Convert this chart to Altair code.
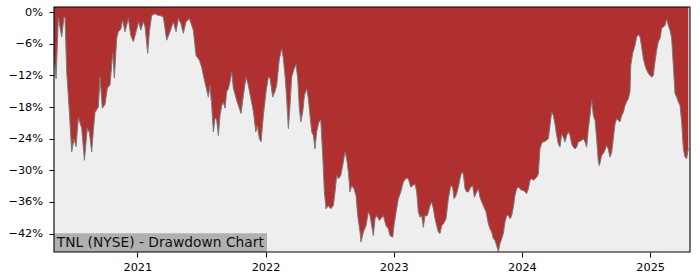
import altair as alt
import pandas as pd

# Time as decimal years, drawdown in percent
years = [
    2020.350, 2020.366, 2020.384, 2020.410, 2020.428, 2020.436, 2020.449, 2020.470, 2020.488, 2020.506,
    2020.522, 2020.540, 2020.566, 2020.587, 2020.610, 2020.626, 2020.644, 2020.657, 2020.670, 2020.696,
    2020.709, 2020.727, 2020.748, 2020.766, 2020.787, 2020.808, 2020.821, 2020.839, 2020.852, 2020.871,
    2020.886, 2020.904, 2020.930, 2020.949, 2020.969, 2020.990, 2021.011, 2021.027, 2021.047, 2021.060,
    2021.081, 2021.094, 2021.112, 2021.138, 2021.164,
    2021.177, 2021.203, 2021.229, 2021.255, 2021.281, 2021.302, 2021.320, 2021.339, 2021.359, 2021.380,
    2021.406, 2021.424, 2021.437, 2021.458, 2021.484, 2021.502, 2021.515, 2021.536, 2021.554, 2021.567,
    2021.580, 2021.593, 2021.606, 2021.619, 2021.632, 2021.645, 2021.658, 2021.671, 2021.684, 2021.697,
    2021.710, 2021.723, 2021.736, 2021.749, 2021.770, 2021.788, 2021.809, 2021.827, 2021.848, 2021.866,
    2021.885, 2021.905, 2021.924, 2021.936, 2021.952, 2021.965, 2021.983, 2022.004, 2022.022,
    2022.035, 2022.056, 2022.074, 2022.087, 2022.108, 2022.126, 2022.139, 2022.152, 2022.165, 2022.178,
    2022.191, 2022.204, 2022.222, 2022.238, 2022.251, 2022.264, 2022.275, 2022.290, 2022.303, 2022.321,
    2022.334, 2022.347, 2022.360, 2022.373, 2022.386, 2022.399, 2022.417, 2022.431, 2022.446, 2022.459,
    2022.472, 2022.490, 2022.509, 2022.529, 2022.542, 2022.555, 2022.568, 2022.587, 2022.602, 2022.620,
    2022.633, 2022.646, 2022.659, 2022.672, 2022.690, 2022.706, 2022.719, 2022.737, 2022.745, 2022.763,
    2022.784, 2022.802, 2022.815, 2022.828, 2022.841, 2022.854, 2022.867, 2022.888,
    2022.919, 2022.940, 2022.958, 2022.971, 2022.992, 2023.002, 2023.018, 2023.036, 2023.055, 2023.075,
    2023.096, 2023.114, 2023.133, 2023.148, 2023.166, 2023.179, 2023.192, 2023.205, 2023.218, 2023.231,
    2023.244, 2023.262, 2023.283, 2023.296, 2023.309, 2023.322, 2023.335, 2023.348, 2023.361, 2023.374,
    2023.387, 2023.408, 2023.426, 2023.445, 2023.460, 2023.470, 2023.486, 2023.504, 2023.517, 2023.530,
    2023.543, 2023.556, 2023.569, 2023.582, 2023.601, 2023.616, 2023.629, 2023.647, 2023.660, 2023.673,
    2023.686, 2023.699, 2023.720, 2023.738,
    2023.751, 2023.764, 2023.777, 2023.790, 2023.803, 2023.816, 2023.829, 2023.842, 2023.855, 2023.868,
    2023.881, 2023.894, 2023.907, 2023.920, 2023.933, 2023.946, 2023.959, 2023.972, 2023.985, 2023.998,
    2024.011, 2024.024, 2024.037, 2024.050, 2024.063, 2024.076, 2024.089, 2024.102, 2024.115, 2024.128,
    2024.141, 2024.154, 2024.167, 2024.180, 2024.193, 2024.206, 2024.219, 2024.232, 2024.245, 2024.258,
    2024.271, 2024.284, 2024.297, 2024.310, 2024.323, 2024.336, 2024.349, 2024.362, 2024.375, 2024.388,
    2024.401, 2024.414, 2024.427, 2024.440, 2024.453, 2024.466, 2024.479, 2024.492, 2024.505, 2024.518,
    2024.531, 2024.544, 2024.557, 2024.570, 2024.583, 2024.596,
    2024.604, 2024.622, 2024.640, 2024.661, 2024.674, 2024.687, 2024.700, 2024.713, 2024.726, 2024.739,
    2024.752, 2024.765, 2024.778, 2024.791, 2024.804, 2024.817, 2024.830, 2024.843, 2024.849, 2024.864,
    2024.882, 2024.895, 2024.908, 2024.921, 2024.934, 2024.947, 2024.960, 2024.973, 2024.986, 2024.999,
    2025.012, 2025.025, 2025.038, 2025.051, 2025.064, 2025.077, 2025.090, 2025.103, 2025.116, 2025.129,
    2025.142, 2025.155, 2025.168, 2025.181, 2025.194, 2025.207, 2025.220, 2025.233, 2025.246, 2025.259,
    2025.272, 2025.285, 2025.298,
]

drawdown = [
    -8.2, -12.6, -1.0, -4.7, -0.9, -1.0, -11.3, -19.0, -26.5, -24.0,
    -25.5, -20.0, -22.0, -28.1, -22.0, -22.8, -26.5, -22.4, -19.0, -18.0,
    -12.3, -18.2, -17.5, -14.4, -13.8, -7.8, -12.5, -4.9, -3.7, -3.2,
    -1.5, -3.7, -1.2, -4.4, -5.6, -3.7, -1.8, -3.4, -1.8, -2.7,
    -7.8, -3.7, -0.6, -0.3, -0.6,
    -0.6, -0.9, -5.3, -3.7, -1.8, -3.7, -1.2, -2.1, -4.0, -1.8,
    -1.2, -2.5, -3.4, -8.2, -9.1, -10.4, -12.0, -14.2, -16.1, -13.9,
    -17.7, -22.7, -20.1, -20.4, -23.4, -19.6, -17.7, -17.1, -18.2, -15.1,
    -14.5, -13.2, -11.3, -14.4, -16.3, -17.7, -19.2, -15.8, -12.3, -13.9,
    -16.3, -18.8, -22.7, -21.5, -24.0, -24.6, -19.6, -15.1, -12.3,
    -12.5, -16.1, -15.0, -13.9, -8.8, -6.9, -8.8, -12.0, -16.4, -22.1,
    -17.7, -12.3, -10.8, -9.9, -12.5, -18.3, -20.8, -19.0, -15.8, -14.5,
    -16.4, -19.6, -22.7, -23.4, -25.9, -22.7, -20.8, -20.5, -27.2, -34.1,
    -37.3, -36.7, -37.3, -36.7, -34.1, -31.0, -31.6, -31.0, -29.1, -26.5,
    -27.8, -30.3, -34.1, -32.9, -33.5, -34.8, -38.6, -41.7, -43.6, -41.7,
    -40.5, -37.9, -38.6, -40.5, -42.4, -39.2, -38.6, -39.5,
    -38.6, -40.5, -41.1, -42.4, -42.7, -40.5, -38.0, -35.4, -34.1, -32.2,
    -31.5, -31.6, -33.2, -32.9, -32.6, -34.1, -37.9, -38.9, -38.6, -40.8,
    -38.6, -38.6, -36.7, -36.0, -37.3, -39.2, -40.5, -41.7, -42.0, -40.5,
    -40.2, -39.2, -35.4, -32.9, -33.2, -35.4, -34.8, -33.2, -31.6, -30.3,
    -30.7, -33.5, -34.1, -34.1, -33.2, -32.9, -35.1, -34.1, -33.5, -35.1,
    -36.0, -36.7, -37.9, -40.1,
    -41.1, -41.7, -43.0, -43.3, -44.3, -45.4, -43.9, -43.0, -42.0, -39.8,
    -38.6, -38.5, -39.2, -38.6, -37.0, -34.8, -33.5, -33.2, -33.5, -33.8,
    -33.8, -34.1, -34.4, -33.5, -31.9, -31.6, -31.9, -31.6, -31.3, -30.7,
    -25.9, -24.9, -24.6, -24.5, -24.3, -24.0, -21.5, -18.9, -19.6, -21.2,
    -23.4, -25.0, -25.6, -23.1, -23.7, -24.6, -23.4, -22.7, -23.4, -25.0,
    -25.6, -25.9, -25.6, -24.6, -24.5, -24.3, -24.0, -24.6, -25.6, -22.1,
    -19.6, -16.7, -19.6, -20.5, -24.0, -28.4,
    -29.1, -27.2, -26.6, -25.3, -26.0, -27.5, -26.6, -24.0, -21.2, -20.2,
    -20.5, -20.8, -19.6, -19.0, -17.7, -17.0, -16.4, -15.1, -10.1, -7.8,
    -6.3, -4.7, -4.2, -4.7, -6.6, -8.8, -10.1, -11.0, -11.6, -12.0,
    -12.3, -12.0, -9.4, -7.2, -5.6, -5.0, -3.1, -2.8, -2.5, -1.3,
    -2.5, -3.4, -5.0, -10.1, -15.4, -16.1, -17.0, -17.7, -20.8, -25.9,
    -27.5, -27.8, -25.9,
]

x_ticks = [2021, 2022, 2023, 2024, 2025]
y_ticks = [-42, -36, -30, -24, -18, -12, -6, 0]
label_text = ["TNL (NYSE) - Drawdown Chart"]

df = pd.DataFrame({"year": years, "dd": drawdown})
lab = pd.DataFrame({"label": label_text})

FONT = "DejaVu Sans"
x_dom = [2020.350, 2025.311]
y_dom = [-45.5, 1.0]

x_enc = alt.X(
    "year:Q",
    scale=alt.Scale(domain=x_dom, nice=False, zero=False),
    axis=alt.Axis(values=x_ticks, format="d", title=None, grid=False, domain=False,
                  tickSize=5, tickColor="black", tickWidth=1, labelPadding=4,
                  labelOverlap=False, labelFontSize=11.3, labelColor="black", labelFont=FONT),
)
y_enc = alt.Y(
    "dd:Q",
    scale=alt.Scale(domain=y_dom, nice=False, zero=False),
    axis=alt.Axis(values=y_ticks, format="d", title=None, grid=False, domain=False,
                  tickSize=5, tickColor="black", tickWidth=1, labelPadding=6.5,
                  labelOverlap=False, tickCount=8,
                  labelExpr="replace(datum.label, '-', '\u2212') + '%'",
                  labelFontSize=11.3, labelColor="black", labelFont=FONT),
)

base = alt.Chart(df).encode(x=x_enc, y=y_enc)

area = base.mark_area(color="#b03030", opacity=1, clip=True).encode(y2=alt.datum(1.0))
line = base.mark_line(color="#7a7a7a", strokeWidth=1, clip=True)

box = alt.Chart(lab).mark_rect(color="#b0b0b0").encode(
    x=alt.value(0), x2=alt.value(213), y=alt.value(226.3), y2=alt.value(245)
)
txt = alt.Chart(lab).mark_text(
    align="left", baseline="alphabetic", font=FONT, fontSize=13.8, color="#111111"
).encode(x=alt.value(2.7), y=alt.value(239.7), text="label:N")

frame = alt.Chart(lab).mark_rect(filled=False, stroke="black", strokeWidth=1.1, fillOpacity=0).encode(
    x=alt.value(0), x2=alt.value(636), y=alt.value(0), y2=alt.value(245)
)

chart = alt.layer(area, line, box, txt, frame).properties(
    width=636, height=245,
    background="white",
    autosize=alt.AutoSizeParams(type="none"),
    padding={"left": 54, "top": 7, "right": 10, "bottom": 28},
).configure_view(
    fill="#eeeeee", stroke=None
)

chart.save("out.html", embed_options={"renderer": "svg", "actions": False})
